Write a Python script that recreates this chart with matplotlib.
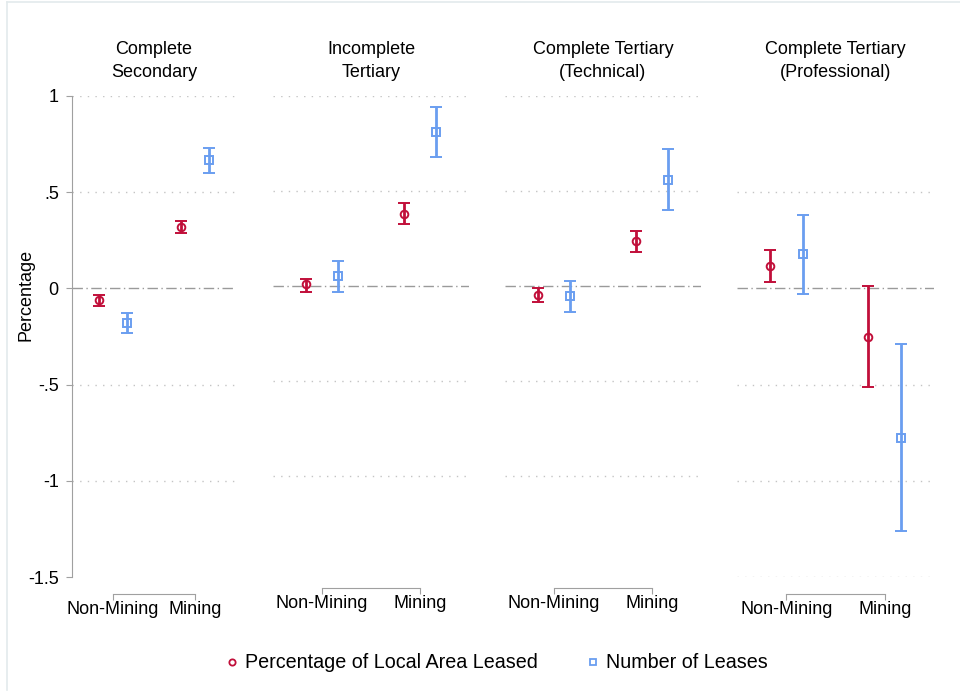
import matplotlib
matplotlib.use("Agg")
import matplotlib.pyplot as plt
from matplotlib.lines import Line2D
import numpy as np

plt.rcParams['font.family'] = ['Liberation Sans', 'DejaVu Sans']

# ---- data ----
panel_titles = ["Complete\nSecondary", "Incomplete\nTertiary",
                "Complete Tertiary\n(Technical)", "Complete Tertiary\n(Professional)"]
categories = ["Non-Mining", "Mining"]
series_names = ["Percentage of Local Area Leased", "Number of Leases"]

# point estimates [panel][category]
pct_est = [[-0.06, 0.32], [0.01, 0.38], [-0.045, 0.236], [0.118, -0.25]]
pct_lo  = [[-0.09, 0.29], [-0.03, 0.325], [-0.085, 0.18], [0.033, -0.51]]
pct_hi  = [[-0.035, 0.35], [0.035, 0.435], [-0.01, 0.29], [0.20, 0.01]]

num_est = [[-0.18, 0.667], [0.055, 0.81], [-0.055, 0.56], [0.177, -0.78]]
num_lo  = [[-0.23, 0.60], [-0.03, 0.68], [-0.135, 0.40], [-0.03, -1.26]]
num_hi  = [[-0.13, 0.73], [0.13, 0.94], [0.025, 0.72], [0.38, -0.29]]

yticks = [1, 0.5, 0, -0.5, -1, -1.5]
ytick_labels = ["1", ".5", "0", "-.5", "-1", "-1.5"]

# ---- style ----
RED = '#C10F3A'
BLUE = '#6A9EF0'
GRID = '#c4c4c4'
AXC = '#a0a0a0'

W, H = 960, 698
fig = plt.figure(figsize=(W / 100, H / 100), dpi=100)

# panel boxes in pixels: x0, x1, y0(top), y1(bottom)
boxes = [(72, 236, 96, 577), (273, 469, 96, 571), (505, 701, 96, 571), (737, 934, 96, 577)]
grids = [[1, 0.5, -0.5, -1], [1, 0.5, -0.5, -1], [1, 0.5, -0.5, -1], [0.5, -0.5, -1, -1.5]]

off = 0.165
for i, (x0, x1, y0, y1) in enumerate(boxes):
    ax = fig.add_axes([x0 / W, 1 - y1 / H, (x1 - x0) / W, (y1 - y0) / H])
    ax.set_xlim(-0.5, 1.5)
    ax.set_ylim(-1.5, 1)
    for g in grids[i]:
        ax.axhline(g, color=GRID, lw=1.0, linestyle=(0, (1, 4.5)), zorder=0)
    ax.axhline(0, color='#9a9a9a', lw=1.0, linestyle=(0, (7.5, 2.5, 1.0, 2.5)), zorder=0)

    xs = np.arange(len(categories))
    pe = np.array(pct_est[i]); pl = np.array(pct_lo[i]); ph = np.array(pct_hi[i])
    ne = np.array(num_est[i]); nl = np.array(num_lo[i]); nh = np.array(num_hi[i])
    ax.errorbar(xs - off, pe, yerr=[pe - pl, ph - pe], fmt='o', color=RED,
                mfc='none', mec=RED, ms=5.5, mew=1.4, elinewidth=2.0,
                capsize=4.5, capthick=2.0, zorder=3)
    ax.errorbar(xs + off, ne, yerr=[ne - nl, nh - ne], fmt='s', color=BLUE,
                mfc='none', mec=BLUE, ms=5.5, mew=1.4, elinewidth=2.0,
                capsize=4.5, capthick=2.0, zorder=3)

    for s in ['top', 'right']:
        ax.spines[s].set_visible(False)
    ax.spines['bottom'].set_position(('outward', 12))
    ax.spines['bottom'].set_bounds(0, 1)
    ax.spines['bottom'].set_color(AXC)
    ax.set_xticks(xs)
    ax.set_xticklabels(categories, fontsize=13)
    ax.tick_params(axis='x', direction='out', length=4.5, color=AXC, pad=1)

    if i == 0:
        ax.spines['left'].set_color(AXC)
        ax.spines['left'].set_bounds(-1.5, 1)
        ax.set_yticks(yticks)
        ax.set_yticklabels(ytick_labels, fontsize=13)
        ax.tick_params(axis='y', direction='out', length=4.5, color=AXC, pad=5)
        ax.set_ylabel("Percentage", fontsize=13)
        ax.yaxis.set_label_coords(-0.226, 0.586)
    else:
        ax.spines['left'].set_visible(False)
        ax.set_yticks([])

    ax.set_title(panel_titles[i], fontsize=13, pad=14, linespacing=1.4)
    ax.set_facecolor('none')

handles = [Line2D([], [], marker='o', ls='none', mfc='none', mec=RED, ms=4.5, mew=1.3),
           Line2D([], [], marker='s', ls='none', mfc='none', mec=BLUE, ms=4.5, mew=1.3)]
fig.legend(handles, series_names, loc='center', bbox_to_anchor=(497 / W, 1 - 663 / H),
           ncol=2, frameon=False, fontsize=14.2, handlelength=0.6, handletextpad=0.35,
           columnspacing=2.5)

# faint outer frame
fig.add_artist(Line2D([7 / W, 7 / W], [1 - 690 / H, 1 - 2 / H], transform=fig.transFigure,
                      color='#e3eaec', lw=1.2))
fig.add_artist(Line2D([7 / W, 1.0], [1 - 2 / H, 1 - 2 / H], transform=fig.transFigure,
                      color='#e3eaec', lw=1.2))

fig.savefig("out.png", dpi=100)
